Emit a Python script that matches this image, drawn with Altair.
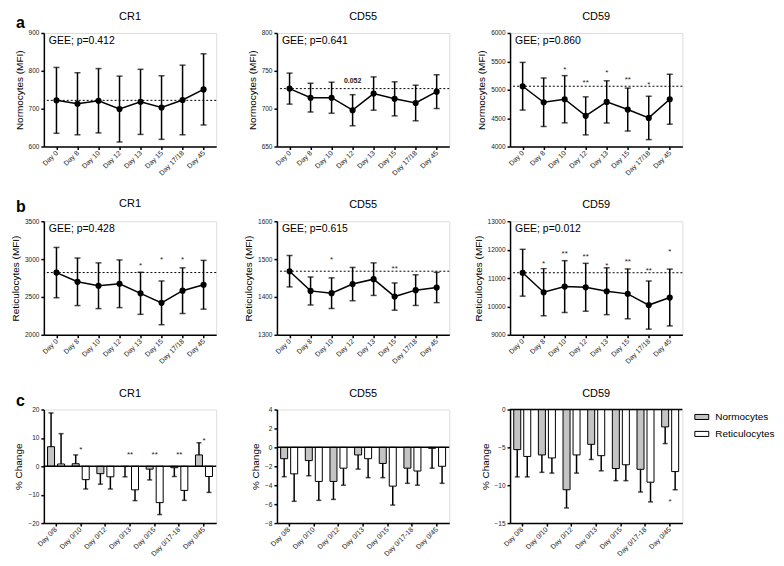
import altair as alt
import pandas as pd

FONT = "Liberation Sans"

days = ["Day 0", "Day 8", "Day 10", "Day 12", "Day 13", "Day 15", "Day 17/18", "Day 45"]
cdays = ["Day 0/8", "Day 0/10", "Day 0/12", "Day 0/13", "Day 0/15", "Day 0/17-18", "Day 0/45"]
cells = ["Normocytes", "Reticulocytes"]

# ---- a: Normocytes (MFI), mean and SD
cr1_n_mean = [722, 713, 721, 699, 718, 703, 723, 751]
cr1_n_sd = [87, 82, 85, 87, 86, 84, 92, 94]
cd55_n_mean = [726.5, 714.5, 714.5, 698, 720, 713, 707.5, 722.5]
cd55_n_sd = [20.5, 19, 20.5, 20.5, 22, 22.5, 23.5, 22.3]
cd59_n_mean = [5062, 4780, 4833, 4540, 4786, 4651, 4504, 4833]
cd59_n_sd = [420, 428, 416, 335, 372, 378, 382, 440]
cd59_n_star = ["", "", "*", "**", "*", "**", "*", ""]
cd59_n_star_y = [None, None, 5384, 5161, 5337, 5208, 5120, None]
cr1_n_star = [""] * 8
cr1_n_star_y = [None] * 8
cd55_n_star = ["", "", "", "0.052", "", "", "", ""]
cd55_n_star_y = [None, None, None, 737, None, None, None, None]

# ---- b: Reticulocytes (MFI)
cr1_r_mean = [2822, 2700, 2648, 2674, 2548, 2422, 2583, 2661]
cr1_r_sd = [332, 314, 302, 315, 278, 289, 302, 322]
cr1_r_star = ["", "", "", "", "*", "*", "*", ""]
cr1_r_star_y = [None, None, None, None, 2930, 3017, 3017, None]
cd55_r_mean = [1468, 1416, 1410, 1434, 1447, 1401, 1418, 1425]
cd55_r_sd = [41.5, 37, 40.5, 44, 43, 36, 40.5, 40]
cd55_r_star = ["", "", "*", "", "", "**", "", ""]
cd55_r_star_y = [None, None, 1502, None, None, 1480, None, None]
cd59_r_mean = [11186, 10500, 10698, 10674, 10535, 10442, 10047, 10314]
cd59_r_sd = [825, 831, 913, 843, 825, 878, 848, 1000]
cd59_r_star = ["", "*", "**", "**", "*", "**", "**", "*"]
cd59_r_star_y = [None, 11547, 11930, 11814, 11488, 11640, 11326, 11988]

# ---- c: % change (value, error-bar end)
cr1_c_n = [6.9, 0.9, -2.6, -0.1, -1.0, -0.5, 4.0]
cr1_c_n_err = [18.8, 4.0, -6.3, -3.7, -4.8, -3.6, 8.3]
cr1_c_r = [0.8, -4.7, -3.7, -8.3, -12.8, -8.5, -3.6]
cr1_c_r_err = [11.5, -8.0, -8.0, -12.1, -17.0, -12.0, -9.2]
cr1_c_star = ["", "*", "", "**", "**", "**", "*"]
cr1_c_star_y = [None, 6.3, None, 4.5, 4.5, 4.5, 9.7]

cd55_c_n = [-1.2, -1.4, -3.6, -0.8, -1.7, -2.2, -0.1]
cd55_c_n_err = [-3.1, -3.0, -5.5, -2.3, -3.2, -3.8, -2.2]
cd55_c_r = [-2.8, -3.6, -2.2, -1.2, -4.1, -2.5, -2.0]
cd55_c_r_err = [-5.7, -5.6, -4.0, -3.2, -6.1, -4.0, -3.8]
cd55_c_star = [""] * 7
cd55_c_star_y = [None] * 7

cd59_c_n = [-5.3, -6.0, -10.6, -4.6, -7.8, -7.9, -2.3]
cd59_c_n_err = [-8.9, -8.3, -13.0, -6.6, -9.4, -10.9, -4.5]
cd59_c_r = [-6.2, -6.4, -6.0, -6.1, -7.3, -9.6, -8.2]
cd59_c_r_err = [-8.9, -8.4, -8.4, -8.1, -9.4, -12.2, -10.6]
cd59_c_star = ["", "", "", "", "", "", "*"]
cd59_c_star_y = [None, None, None, None, None, None, -11.9]

W, H = 173, 114


def yaxis(title, values):
    return alt.Axis(values=values, title=title, grid=False, format="d", labelFontSize=6.5,
                    labelColor="#222", labelFont=FONT, titleFont=FONT, titleFontSize=10,
                    titleFontWeight="normal", titleColor="black", titlePadding=4, tickSize=3,
                    tickWidth=1.5, tickColor="black", domainColor="black", domainWidth=1.5,
                    labelPadding=2)


def xaxis():
    return alt.Axis(title=None, labelAngle=-45, labelAlign="right", labelBaseline="middle",
                    labelFontSize=7, labelFont=FONT, labelColor="#222", tickSize=3, tickWidth=1.5,
                    tickColor="black", domainColor="black", domainWidth=1.5, labelPadding=2, grid=False)


def title(t, dy=0):
    return alt.Title(t, fontSize=11, fontWeight="normal", font=FONT, color="black", offset=8, dy=dy)


def letter_layer(letter, ypos):
    return alt.Chart(pd.DataFrame({"t": [letter]})).mark_text(
        align="left", baseline="alphabetic", x=-28, y=ypos, fontSize=16, fontWeight="bold",
        font=FONT, color="black").encode(text="t:N")


def line_panel(ttl, ytitle, means, sds, star, star_y, gee, domain, ticks, letter=None, lety=-6,
               tdy=0, bold_star=False):
    df = pd.DataFrame({"day": days, "mean": means, "sd": sds})
    df["lo"] = df["mean"] - df["sd"]
    df["hi"] = df["mean"] + df["sd"]
    ysc = alt.Scale(domain=domain, nice=False, zero=False)

    def Y(f):
        return alt.Y(f, type="quantitative", scale=ysc, axis=yaxis(ytitle, ticks), title=ytitle)

    X = alt.X("day:N", sort=days, scale=alt.Scale(type="point", padding=0.6), axis=xaxis())
    base = alt.Chart(df)
    ref = alt.Chart(pd.DataFrame({"b": [means[0]]})).mark_rule(
        strokeDash=[2, 2], color="black", strokeWidth=1).encode(y=Y("b"))
    err = base.mark_rule(color="black", strokeWidth=1.5).encode(x=X, y=Y("lo"), y2="hi")
    cap_hi = base.mark_tick(color="black", thickness=1.5, size=6).encode(x=X, y=Y("hi"))
    cap_lo = base.mark_tick(color="black", thickness=1.5, size=6).encode(x=X, y=Y("lo"))
    line = base.mark_line(color="black", strokeWidth=1.5).encode(x=X, y=Y("mean"))
    pts = base.mark_circle(color="black", size=38, opacity=1).encode(x=X, y=Y("mean"))
    gee_t = alt.Chart(pd.DataFrame({"t": [gee]})).mark_text(
        align="left", baseline="top", x=5, y=3, fontSize=10.5, font=FONT, color="black"
    ).encode(text="t:N")
    sdf = pd.DataFrame({"day": days, "s": star, "sy": star_y}).dropna()
    stars = alt.Chart(sdf).mark_text(
        fontSize=7 if bold_star else 8, fontWeight="bold" if bold_star else "normal",
        color="#222", baseline="middle", dy=2 if not bold_star else 0, font=FONT
    ).encode(x=X, y=Y("sy"), text="s:N")
    layers = [ref, err, cap_hi, cap_lo, line, pts, gee_t, stars]
    if letter:
        layers.append(letter_layer(letter, lety))
    return alt.layer(*layers).properties(width=W, height=H, title=title(ttl, tdy))


def bar_panel(ttl, n, n_err, r, r_err, star, star_y, domain, ticks, legend, letter=None, lety=-6,
              tdy=0):
    rows = []
    for i, c in enumerate(cdays):
        rows.append({"cat": c, "cell": cells[0], "val": n[i], "err": n_err[i]})
        rows.append({"cat": c, "cell": cells[1], "val": r[i], "err": r_err[i]})
    df = pd.DataFrame(rows)
    ysc = alt.Scale(domain=domain, nice=False, zero=False)

    def Y(f):
        return alt.Y(f, type="quantitative", scale=ysc, axis=yaxis("% Change", ticks), title="% Change")

    X = alt.X("cat:N", sort=cdays, scale=alt.Scale(paddingInner=0.31, paddingOuter=0.15), axis=xaxis())
    XO = alt.XOffset("cell:N", sort=cells, scale=alt.Scale(paddingInner=0.3))
    if legend:
        leg = alt.Legend(title=None, orient="right", offset=12,
                         symbolType="M-1,-0.36H1V0.36H-1Z", symbolSize=196,
                         symbolStrokeColor="black", symbolStrokeWidth=1, labelFontSize=10,
                         labelFont=FONT, labelColor="black", labelOffset=6, rowPadding=4)
    else:
        leg = None
    fill = alt.Fill("cell:N", sort=cells, scale=alt.Scale(domain=cells, range=["#c4c4c4", "white"]),
                    legend=leg)
    base = alt.Chart(df)
    bars = base.mark_bar(stroke="black", strokeWidth=1).encode(
        x=X, xOffset=XO, y=Y("val"), y2=alt.datum(0), fill=fill)
    err = base.mark_rule(color="black", strokeWidth=1.5).encode(x=X, xOffset=XO, y=Y("val"), y2="err")
    cap = base.mark_tick(color="black", thickness=1.5, size=5).encode(x=X, xOffset=XO, y=Y("err"))
    zero = alt.Chart(pd.DataFrame({"z": [0]})).mark_rule(color="black", strokeWidth=1.5).encode(y=Y("z"))
    sdf = pd.DataFrame({"cat": cdays, "s": star, "sy": star_y}).dropna()
    stars = alt.Chart(sdf).mark_text(fontSize=8, color="#222", baseline="middle", dy=2, font=FONT
                                     ).encode(x=X, y=Y("sy"), text="s:N")
    layers = [bars, err, cap, zero, stars]
    if letter:
        layers.append(letter_layer(letter, lety))
    return alt.layer(*layers).properties(width=W, height=H, title=title(ttl, tdy))


panels = [
    line_panel("CR1", "Normocytes (MFI)", cr1_n_mean, cr1_n_sd, cr1_n_star, cr1_n_star_y,
               "GEE; p=0.412", [600, 900], [600, 700, 800, 900], letter="a", lety=-5, tdy=15),
    line_panel("CD55", "Normocytes (MFI)", cd55_n_mean, cd55_n_sd, cd55_n_star, cd55_n_star_y,
               "GEE; p=0.641", [650, 800], [650, 700, 750, 800], bold_star=True),
    line_panel("CD59", "Normocytes (MFI)", cd59_n_mean, cd59_n_sd, cd59_n_star, cd59_n_star_y,
               "GEE; p=0.860", [4000, 6000], [4000, 4500, 5000, 5500, 6000]),
    line_panel("CR1", "Reticulocytes (MFI)", cr1_r_mean, cr1_r_sd, cr1_r_star, cr1_r_star_y,
               "GEE; p=0.428", [2000, 3500], [2000, 2500, 3000, 3500], letter="b", lety=-9, tdy=18),
    line_panel("CD55", "Reticulocytes (MFI)", cd55_r_mean, cd55_r_sd, cd55_r_star, cd55_r_star_y,
               "GEE; p=0.615", [1300, 1600], [1300, 1400, 1500, 1600]),
    line_panel("CD59", "Reticulocytes (MFI)", cd59_r_mean, cd59_r_sd, cd59_r_star, cd59_r_star_y,
               "GEE; p=0.012", [9000, 13000], [9000, 10000, 11000, 12000, 13000]),
    bar_panel("CR1", cr1_c_n, cr1_c_n_err, cr1_c_r, cr1_c_r_err, cr1_c_star, cr1_c_star_y,
              [-20, 20], [-20, -10, 0, 10, 20], False, letter="c", lety=-4, tdy=14),
    bar_panel("CD55", cd55_c_n, cd55_c_n_err, cd55_c_r, cd55_c_r_err, cd55_c_star, cd55_c_star_y,
              [-8, 4], [-8, -6, -4, -2, 0, 2, 4], False),
    bar_panel("CD59", cd59_c_n, cd59_c_n_err, cd59_c_r, cd59_c_r_err, cd59_c_star, cd59_c_star_y,
              [-15, 0], [-15, -10, -5, 0], True),
]

chart = alt.concat(*panels, columns=3, spacing={"row": 75, "column": 61}, bounds="flush").resolve_scale(
    fill="independent"
).properties(
    padding={"left": 2, "top": 1, "right": 0, "bottom": 0}
).configure_view(stroke=None).configure(font=FONT)

chart.save("out.html", embed_options={"renderer": "svg", "actions": False})
